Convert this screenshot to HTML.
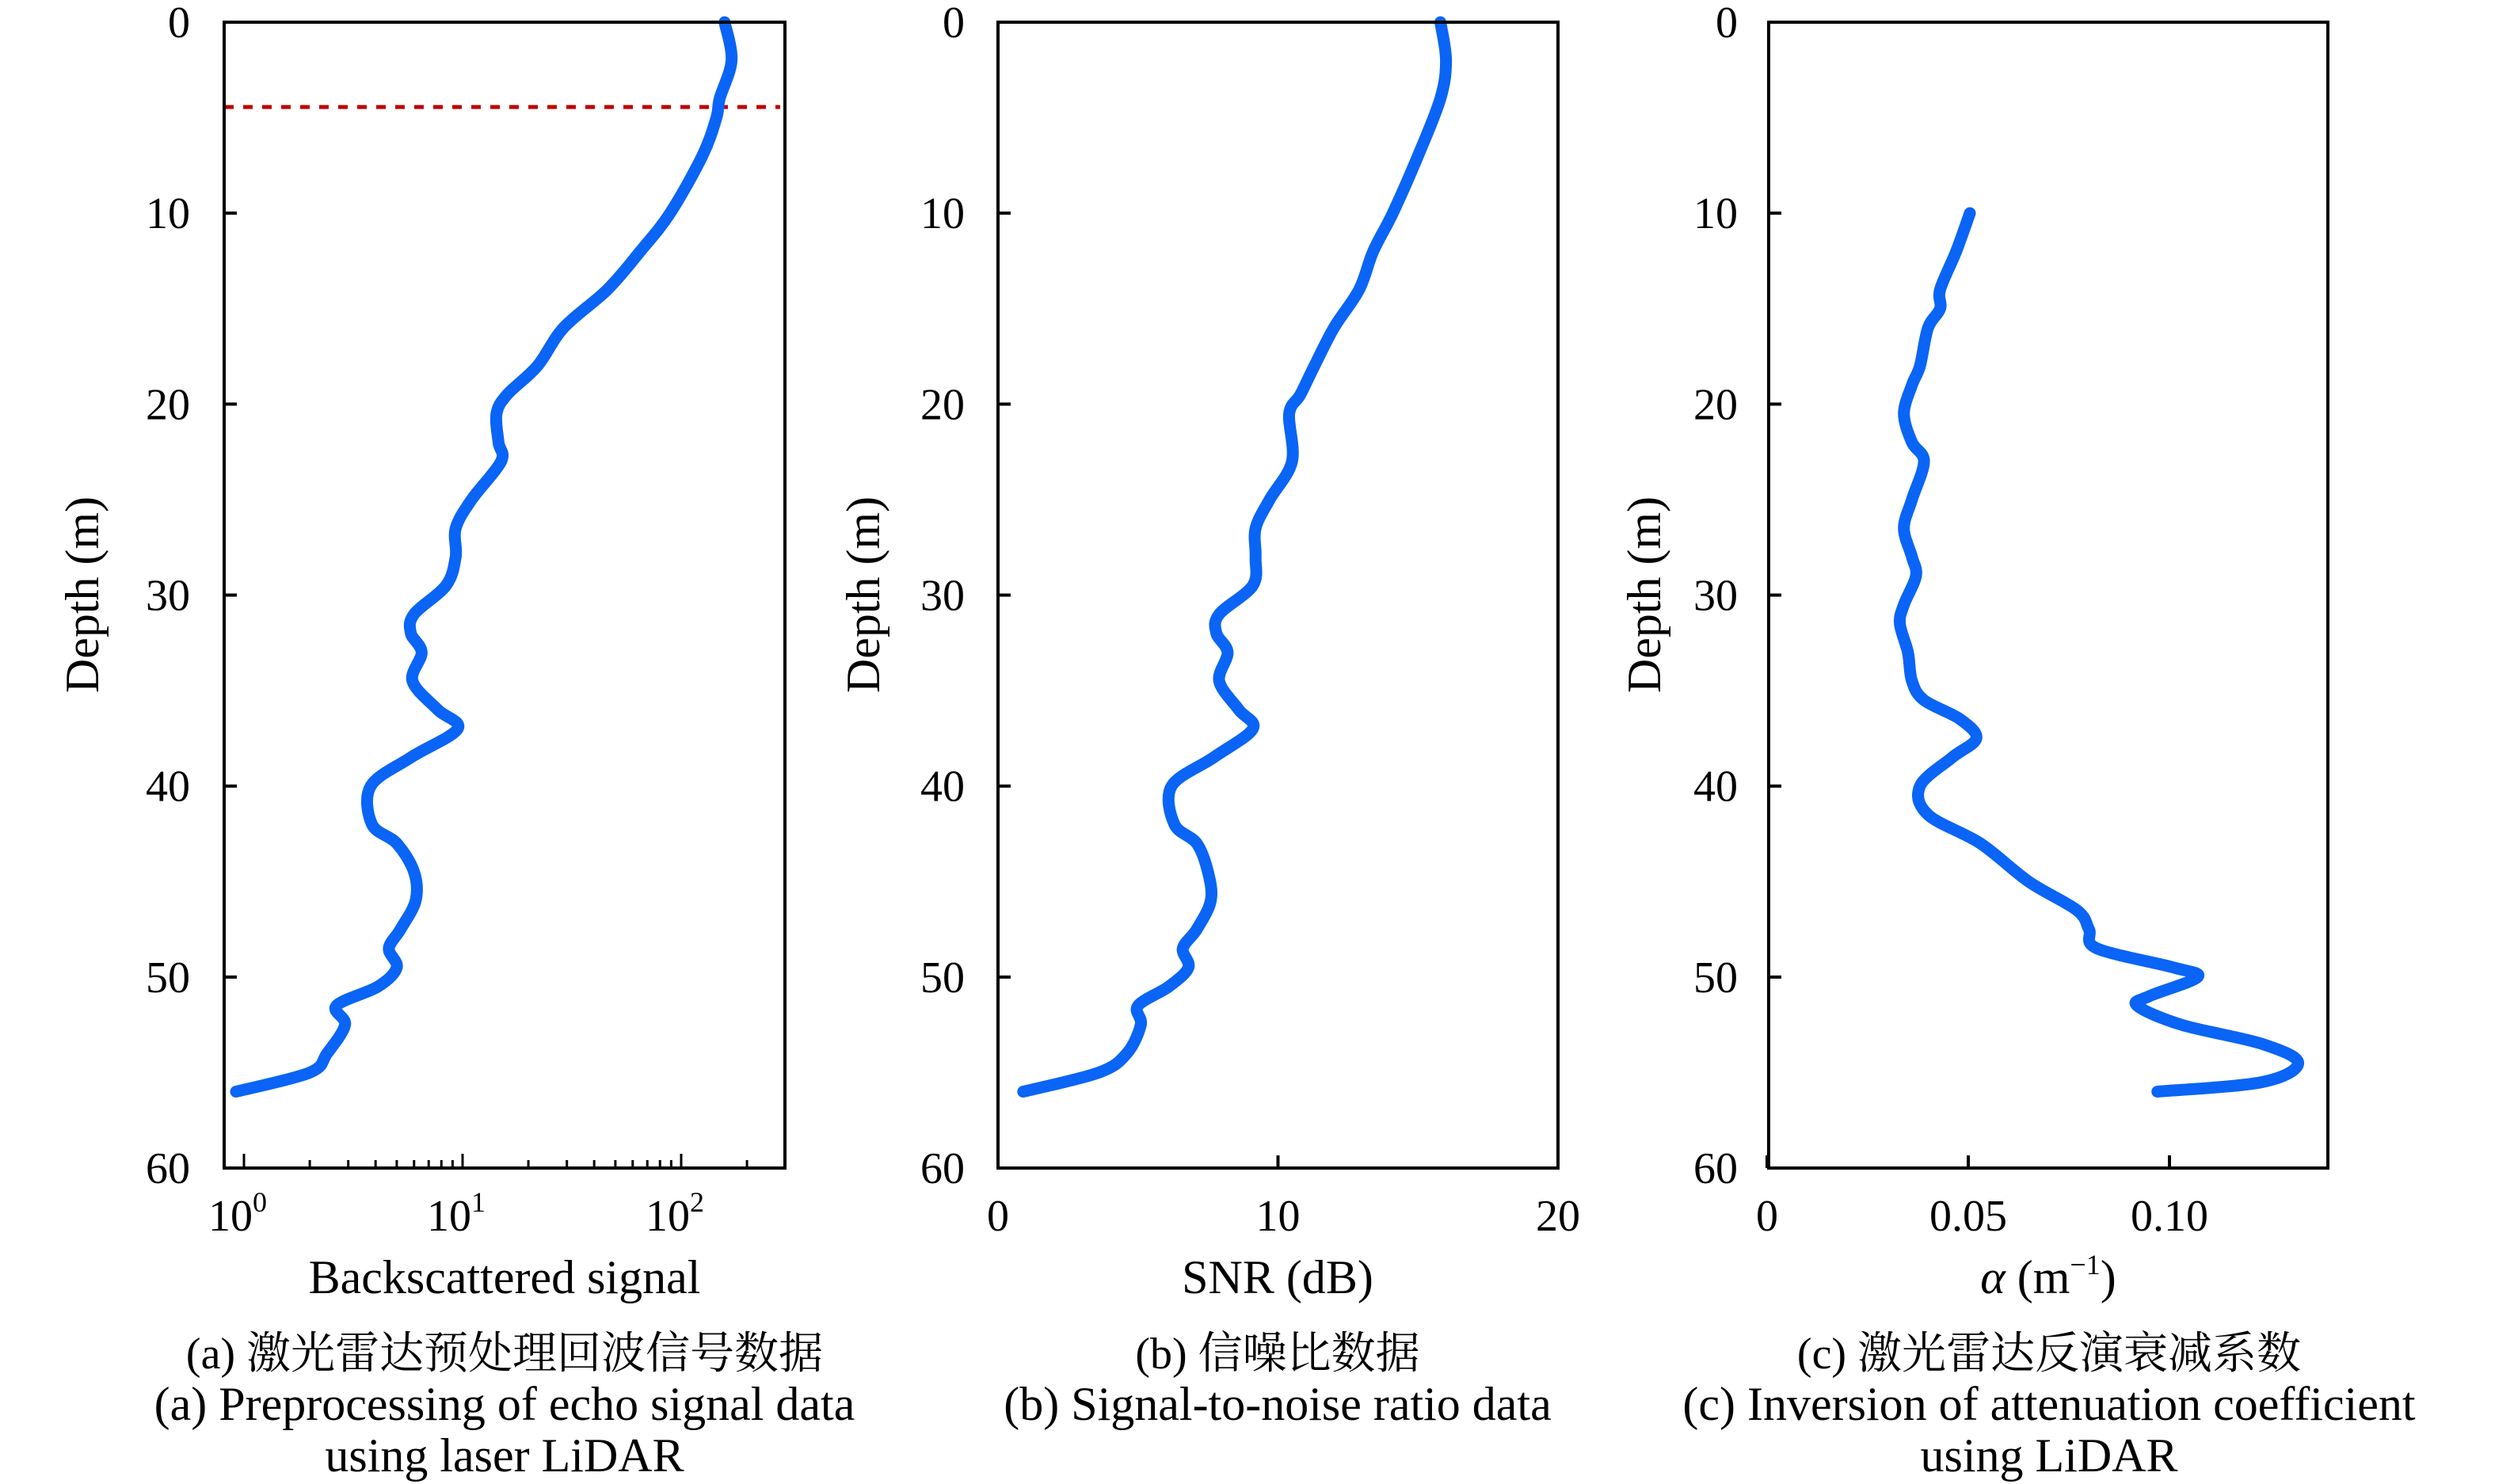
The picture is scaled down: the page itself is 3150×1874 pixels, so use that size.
<!DOCTYPE html>
<html><head><meta charset="utf-8"><style>
html,body{margin:0;padding:0;background:#fff;}
svg{display:block;font-family:"Liberation Serif","Noto Serif CJK SC",serif;}
</style></head><body>
<svg id="fig" width="3150" height="1874" viewBox="0 0 3150 1874" xmlns="http://www.w3.org/2000/svg"></svg>
<script>
// ---- data ----
const depthA = [0,2,4,5,7,10,12,14,16,18,19.5,20.5,22,23,25,26.5,28,29.5,31,32,33,34.5,36,37,38.5,40,42,43,44.5,46,47.5,48.5,49.5,50.5,51.5,52.5,54,55,56];
const signalA = [158,170,150,145,125,89,65,46,29,22,16,14.3,14.6,15,11,9.3,9.3,8.4,6,5.8,6.5,5.9,7.7,9.5,5.8,3.8,3.85,5,6,6.1,5.2,4.6,5,4.1,2.65,2.9,2.4,2.0,0.92];
const depthB = [0,2,4,7,10,12,14,16,18,19.5,20.5,23,25,26.5,28,29.5,31,32,33,34.5,36,37,38.5,40,42,43,44.5,46,47.5,48.5,49.5,50.5,51.5,52.5,54,55,56];
const snrB = [15.8,16.0,15.8,15.0,14.1,13.4,12.9,12.0,11.3,10.8,10.4,10.5,9.7,9.2,9.2,9.1,7.9,7.8,8.2,7.9,8.6,9.1,7.7,6.2,6.3,7.1,7.5,7.6,7.1,6.6,6.8,6.1,5.0,5.1,4.6,3.6,0.9];
const depthC = [10,12,14,15,16,18,19,20.5,22,23,25,26.5,28,29,30.5,31.5,33,34.5,35.5,36.5,37.5,38.5,40,41.5,43,45,46.5,47.5,48.5,49.5,50,51,51.5,52.5,53.5,54.5,55.5,56];
const alphaC = [0.0504,0.047,0.043,0.043,0.040,0.038,0.036,0.034,0.036,0.039,0.036,0.034,0.036,0.037,0.034,0.033,0.035,0.036,0.039,0.048,0.052,0.046,0.038,0.040,0.053,0.065,0.077,0.080,0.082,0.101,0.107,0.095,0.092,0.103,0.123,0.132,0.123,0.097];
const depthTicks = [0,10,20,30,40,50,60];
const snrTicks = [0,10,20];
const alphaTicks = [0,0.05,0.10];
const alphaTickLabels = ["0","0.05","0.10"];
const logMajor = [0,1,2];
const markerDepth = 4.44;

const NS="http://www.w3.org/2000/svg";
const svg=document.getElementById('fig');
function el(tag,attrs,parent){const e=document.createElementNS(NS,tag);for(const k in attrs)e.setAttribute(k,attrs[k]);(parent||svg).appendChild(e);return e;}
const TOP=28,BOT=1475;
const yD=d=>TOP+(BOT-TOP)*d/60;
function smoothPath(pts){
  let d=`M${pts[0][0]},${pts[0][1]}`;
  for(let i=0;i<pts.length-1;i++){
    const p0=pts[Math.max(0,i-1)],p1=pts[i],p2=pts[i+1],p3=pts[Math.min(pts.length-1,i+2)];
    const c1=[p1[0]+(p2[0]-p0[0])/6,p1[1]+(p2[1]-p0[1])/6];
    const c2=[p2[0]-(p3[0]-p1[0])/6,p2[1]-(p3[1]-p1[1])/6];
    d+=` C${c1[0]},${c1[1]} ${c2[0]},${c2[1]} ${p2[0]},${p2[1]}`;
  }
  return d;
}
function panel(name,L,R,labelRight,ylabX){
  const g=el('g',{});
  
  
  depthTicks.forEach(t=>{
    const y=yD(t);
    const tk=el('line',{x1:L,x2:L+16,y1:y,y2:y,stroke:'#000','stroke-width':4},g);
    
    
    const tx=el('text',{x:labelRight,y:y+19,'font-size':56,'text-anchor':'end'},g);
    tx.textContent=t;
    
    
  });
  const yl=el('text',{x:ylabX,y:751,'font-size':60,'text-anchor':'middle',transform:`rotate(-90 ${ylabX} 751)`},g);
  yl.textContent='Depth (m)';
  
  
  return g;
}
function frame(g,L,R){
  const f=el('rect',{x:L,y:TOP,width:R-L,height:BOT-TOP,fill:'none',stroke:'#000','stroke-width':4},g);
  
  
}
function curve(g,pts,nm){
  const p=el('path',{d:smoothPath(pts),fill:'none',stroke:'#0a64f5','stroke-width':15,'stroke-linecap':'round','stroke-linejoin':'round'},g);
  
  
}
function xlabel(g,x,txt,nm){
  const t=el('text',{x:x,y:1554,'font-size':56,'text-anchor':'middle'},g);
  t.textContent=txt;return t;
}
function textLine(g,x,y,txt,nm,fs){
  const t=el('text',{x:x,y:y,'font-size':fs||60,'text-anchor':'middle'},g);
  t.textContent=txt;return t;
}

// ---- panel a (log) ----
const aL=283,aR=991,a0=308,aDec=276;
const xA=v=>a0+aDec*Math.log10(v);
const ga=panel('panel-a',aL,aR,240,124);
for(let e=0;e<=2;e++){
  for(let m=1;m<=9;m++){
    const v=m*Math.pow(10,e);const x=xA(v);
    if(x<=aL||x>=aR)continue;
    const len=m===1?18:10;
    const tk=el('line',{x1:x,x2:x,y1:BOT,y2:BOT-len,stroke:'#000','stroke-width':3},ga);
    
    
  }
}
logMajor.forEach(e=>{
  const t=el('text',{x:xA(Math.pow(10,e))-8,y:1554,'font-size':56,'text-anchor':'middle'},ga);
  
  
  t.appendChild(document.createTextNode('10'));
  const s=el('tspan',{'font-size':36,dy:-24},t);s.textContent=e;
});
const red=el('line',{x1:aL,x2:aR-6,y1:yD(markerDepth),y2:yD(markerDepth),stroke:'#c00000','stroke-width':5,'stroke-dasharray':'12 12'},ga);


curve(ga,depthA.map((d,i)=>[xA(signalA[i]),yD(d)]),'backscatter-curve');
frame(ga,aL,aR);
textLine(ga,637,1633,'Backscattered signal','x-axis-title');
textLine(ga,637,1728,'(a) 激光雷达预处理回波信号数据','caption-a-cn',56);
textLine(ga,637,1793,'(a) Preprocessing of echo signal data','caption-a-en');
textLine(ga,637,1858,'using laser LiDAR','caption-a-en-2');

// ---- panel b ----
const bL=1260,bR=1967;
const xB=v=>bL+(bR-bL)*v/20;
const gb=panel('panel-b',bL,bR,1218,1110);
snrTicks.forEach(t=>{
  const tk=el('line',{x1:xB(t),x2:xB(t),y1:BOT,y2:BOT-16,stroke:'#000','stroke-width':4},gb);
  
  xlabel(gb,xB(t),String(t),'x-tick-label');
});
curve(gb,depthB.map((d,i)=>[xB(snrB[i]),yD(d)]),'snr-curve');
frame(gb,bL,bR);
textLine(gb,1613,1633,'SNR (dB)','x-axis-title');
textLine(gb,1613,1728,'(b) 信噪比数据','caption-b-cn',56);
textLine(gb,1613,1793,'(b) Signal-to-noise ratio data','caption-b-en');

// ---- panel c ----
const cL=2233,cR=2939,c0=2231,cScale=5080;
const xC=v=>c0+cScale*v;
const gc=panel('panel-c',cL,cR,2194,2096);
alphaTicks.forEach((t,i)=>{
  const tk=el('line',{x1:xC(t),x2:xC(t),y1:BOT,y2:BOT-16,stroke:'#000','stroke-width':4},gc);
  
  xlabel(gc,xC(t),alphaTickLabels[i],'x-tick-label');
});
curve(gc,depthC.map((d,i)=>[xC(alphaC[i]),yD(d)]),'attenuation-curve');
frame(gc,cL,cR);
const at=el('text',{x:2586,y:1633,'font-size':60,'text-anchor':'middle'},gc);

const ai=el('tspan',{'font-style':'italic'},at);ai.textContent='α';
at.appendChild(document.createTextNode(' (m'));
const sup=el('tspan',{'font-size':36,dy:-24},at);sup.textContent='−1';
const cl=el('tspan',{dy:24},at);cl.textContent=')';
textLine(gc,2587,1728,'(c) 激光雷达反演衰减系数','caption-c-cn',56);
textLine(gc,2587,1793,'(c) Inversion of attenuation coefficient','caption-c-en');
textLine(gc,2587,1858,'using LiDAR','caption-c-en-2');
</script>
</body></html>
